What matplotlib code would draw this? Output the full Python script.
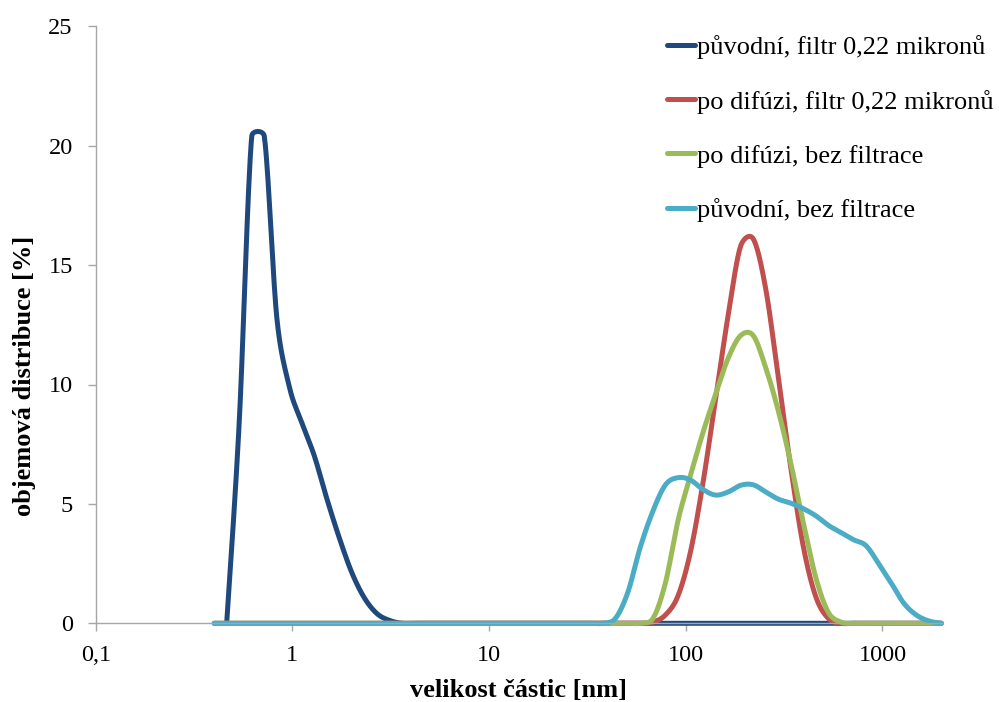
import numpy as np
import matplotlib
matplotlib.use("Agg")
import matplotlib.pyplot as plt

# Particle size bins [nm]
size_nm = [0.4, 0.4632, 0.5365, 0.6213, 0.7195, 0.8332, 0.9649, 1.117, 1.294, 1.499,
           1.736, 2.01, 2.328, 2.696, 3.122, 3.615, 4.187, 4.849, 5.615, 6.503,
           7.531, 8.721, 10.1, 11.7, 13.54, 15.69, 18.17, 21.04, 24.36, 28.21,
           32.67, 37.84, 43.82, 50.75, 58.77, 68.06, 78.82, 91.28, 105.7, 122.4,
           141.8, 164.2, 190.1, 220.2, 255.0, 295.3, 342.0, 396.1, 458.7, 531.2,
           615.1, 712.4, 825.0, 955.4, 1106, 1281, 1484, 1718, 1990]

# Volume distribution [%] per bin (None = no value in that bin)
puvodni_filtr = [None, 0, 8.4, 20.4, 20.4, 12.8, 9.9, 8.4, 7.0, 5.2,
                 3.55, 2.1, 1.05, 0.4, 0.12, 0, 0, 0, 0, 0,
                 0, 0, 0, 0, 0, 0, 0, 0, 0, 0,
                 0, 0, 0, 0, 0, 0, 0, 0, 0, 0,
                 0, 0, 0, 0, 0, 0, 0, 0, 0, 0,
                 0, 0, 0, 0, 0, 0, 0, 0, 0]

difuze_filtr = [0, 0, 0, 0, 0, 0, 0, 0, 0, 0,
                0, 0, 0, 0, 0, 0, 0, 0, 0, 0,
                0, 0, 0, 0, 0, 0, 0, 0, 0, 0,
                0, 0, 0, 0, 0, 0.05, 0.35, 1.15, 3.0, 5.9,
                9.4, 12.9, 15.8, 16.1, 14.0, 10.3, 6.5, 3.2, 1.1, 0.2,
                0, 0, 0, 0, 0, 0, 0, 0, 0]

difuze_bez = [0, 0, 0, 0, 0, 0, 0, 0, 0, 0,
              0, 0, 0, 0, 0, 0, 0, 0, 0, 0,
              0, 0, 0, 0, 0, 0, 0, 0, 0, 0,
              0, 0, 0, 0, 0, 0.2, 1.7, 4.3, 6.2, 8.0,
              9.6, 11.1, 12.05, 12.05, 10.7, 8.9, 6.7, 4.2, 1.9, 0.45,
              0.05, 0, 0, 0, 0, 0, 0, 0, 0]

puvodni_bez = [0, 0, 0, 0, 0, 0, 0, 0, 0, 0,
               0, 0, 0, 0, 0, 0, 0, 0, 0, 0,
               0, 0, 0, 0, 0, 0, 0, 0, 0, 0,
               0, 0, 0.2, 1.3, 3.2, 4.7, 5.8, 6.1, 6.0, 5.6,
               5.37, 5.5, 5.78, 5.8, 5.5, 5.2, 5.03, 4.8, 4.5, 4.1,
               3.8, 3.5, 3.25, 2.5, 1.7, 0.85, 0.35, 0.1, 0]

series_labels = ["původní, filtr 0,22 mikronů", "po difúzi, filtr 0,22 mikronů",
                 "po difúzi, bez filtrace", "původní, bez filtrace"]
series_colors = ["#1F497D", "#C0504D", "#9BBB59", "#4BACC6"]

x_ticks = [0.1, 1, 10, 100, 1000]
x_ticklabels = ["0,1", "1", "10", "100", "1000"]
y_ticks = [0, 5, 10, 15, 20, 25]

plt.rcParams["font.family"] = ["Liberation Serif", "DejaVu Serif"]

fig = plt.figure(figsize=(9.99, 7.02), dpi=100)
ax = fig.add_axes([95.7 / 999, 1 - 623.3 / 702, (941.7 - 95.7) / 999, (623.3 - 26.3) / 702])
ax.set_xscale("log")
ax.set_xlim(0.1, 2000)
ax.set_ylim(0, 25)


def smooth_line(ax, xs, ys, n=24):
    """Bezier smoothing of a polyline in display space (spreadsheet-style smoothed line)."""
    keep = [(x, y) for x, y in zip(xs, ys) if y is not None]
    pts = ax.transData.transform(np.array(keep, dtype=float))
    P = np.vstack([pts[0], pts, pts[-1]])
    out = []
    nseg = len(P) - 3
    for i in range(1, len(P) - 2):
        p0, p1, p2, p3 = P[i - 1], P[i], P[i + 1], P[i + 2]
        d12 = np.linalg.norm(p2 - p1)
        t1 = (p2 - p0) / 6.0
        t2 = (p3 - p1) / 6.0
        l1 = np.linalg.norm(t1)
        l2 = np.linalg.norm(t2)
        if l1 > d12 / 2 and l1 > 0:
            t1 = t1 * (d12 / 2 / l1)
        if l2 > d12 / 2 and l2 > 0:
            t2 = t2 * (d12 / 2 / l2)
        c1 = p1 + t1
        c2 = p2 - t2
        t = np.linspace(0, 1, n, endpoint=(i == nseg))[:, None]
        seg = (1 - t) ** 3 * p1 + 3 * (1 - t) ** 2 * t * c1 + 3 * (1 - t) * t ** 2 * c2 + t ** 3 * p2
        out.append(seg)
    data = ax.transData.inverted().transform(np.vstack(out))
    return data[:, 0], data[:, 1]


for ys, lab, col in zip([puvodni_filtr, difuze_filtr, difuze_bez, puvodni_bez],
                        series_labels, series_colors):
    sx, sy = smooth_line(ax, size_nm, ys)
    ax.plot(sx, sy, color=col, lw=3.6, label=lab, solid_capstyle="round",
            solid_joinstyle="round", clip_on=False)

axis_gray = "#A6A6A6"
for side in ["top", "right"]:
    ax.spines[side].set_visible(False)
for side in ["left", "bottom"]:
    ax.spines[side].set_color(axis_gray)
    ax.spines[side].set_linewidth(1.0)

ax.set_xticks(x_ticks)
ax.set_xticklabels(x_ticklabels)
ax.xaxis.set_minor_locator(matplotlib.ticker.NullLocator())
ax.set_yticks(y_ticks)
ax.tick_params(axis="both", which="major", direction="out", length=5.5, width=1.0,
               color=axis_gray, labelsize=17.5, labelcolor="black")
ax.tick_params(axis="y", pad=11)
ax.tick_params(axis="x", pad=10)

fig.text(519 / 999, 1 - 690 / 702, "velikost částic [nm]", ha="center", va="center",
         fontsize=19, fontweight="bold")
fig.text(25 / 999, 1 - 376 / 702, "objemová distribuce [%]", ha="center", va="center",
         rotation=90, fontsize=19, fontweight="bold")

leg = ax.legend(loc="upper left", bbox_to_anchor=(667 / 999, 1 - 35 / 702),
                bbox_transform=fig.transFigure, frameon=False, fontsize=19,
                handlelength=1.05, handletextpad=0.08, labelspacing=1.16,
                borderpad=0, borderaxespad=0)

fig.savefig("out.png", dpi=100)
